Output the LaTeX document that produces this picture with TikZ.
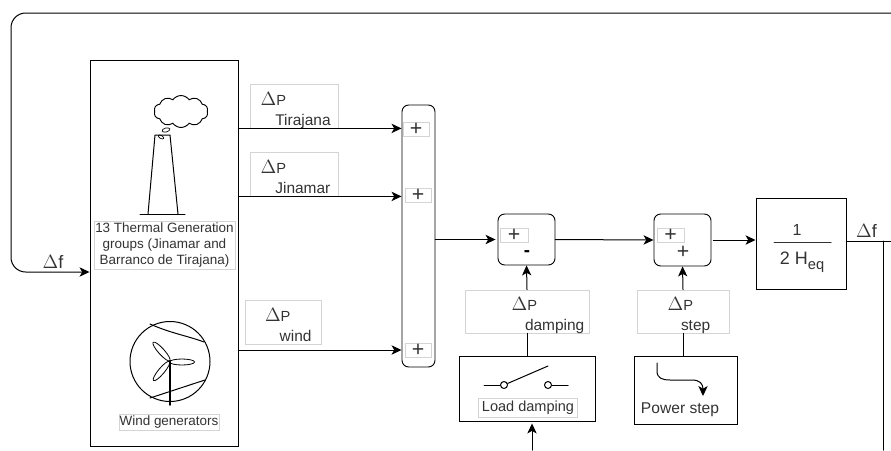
\documentclass[tikz,border=0pt]{standalone}
\usepackage{fontspec}
\setmainfont{Liberation Sans}
\usetikzlibrary{arrows.meta,positioning,shapes.geometric,shapes.symbols}
\definecolor{txt}{HTML}{333333}
\definecolor{lbl}{HTML}{D4D4D4}
\newcommand{\dlabel}[3]{\hspace*{#1}\raisebox{-3.4pt}[10pt][0pt]{\fontsize{14}{15}\selectfont$\Delta$\fontsize{11}{15}\selectfont P}\\\hspace*{#2}\raisebox{-3.4pt}[0pt][3pt]{#3}}
\tikzset{
	>={Stealth[length=7.5pt,width=7pt,inset=2pt]},
	block/.style={draw,line width=0.7pt,minimum width=#1*0.75pt,inner sep=0pt},
	sumbox/.style={block=#1,rounded corners=5pt},
	lblbox/.style={draw=lbl,line width=0.6pt,text=txt,inner sep=0pt,font=\fontsize{10.1}{12}\selectfont},
	dpbox/.style 2 args={lblbox,minimum width=#1*0.75pt,text width=#1*0.75pt,align=left,minimum height=#2*0.75pt,font=\fontsize{11.6}{15}\selectfont},
	plusbox/.style={lblbox,minimum width=26*0.75pt,minimum height=14*0.75pt,font=\fontsize{16}{14}\selectfont},
	sig/.style={text=txt,font=\fontsize{13.5}{14}\selectfont,inner sep=0pt},
	blade/.style={draw,ellipse,line width=0.6pt,minimum width=25*0.75pt,minimum height=6*0.75pt,inner sep=0pt}
}

\begin{document}
\begin{tikzpicture}[x=0.75pt,y=-0.75pt,line width=0.75pt,line cap=round]
\useasboundingbox (0,0) rectangle (891,450);
% blocks
\node[block=148,minimum height=386*0.75pt] (gen) at (164,253) {};
\node[sumbox=33,minimum height=262*0.75pt] (sum_p) at (418.5,236) {};
\node[sumbox=57,minimum height=51*0.75pt] (sum_d) at (526.5,239.5) {};
\node[sumbox=57,minimum height=52*0.75pt] (sum_s) at (682.5,240) {};
\node[block=90,minimum height=91*0.75pt] (inertia) at (801,243.5) {};
\node[block=136,minimum height=65*0.75pt] (load) at (527,388.5) {};
\node[block=103,minimum height=68*0.75pt] (step) at (685.5,390) {};
% labels on the lines
\node[dpbox={88}{44}] (dp_tir) at (294,106) {\dlabel{8pt}{19pt}{Tirajana}};
\node[dpbox={88}{44}] (dp_jin) at (294,174) {\dlabel{8pt}{19pt}{Jinamar}};
\node[dpbox={76}{44}] (dp_wind) at (283,322) {\dlabel{15pt}{26pt}{wind}};
\node[dpbox={124}{43}] (dp_damp) at (527,311.5) {\dlabel{35pt}{45pt}{damping}};
\node[dpbox={92}{43}] (dp_step) at (683,311.5) {\dlabel{23pt}{33pt}{step}};
\node[plusbox] (p1) at (416,129) {+};
\node[plusbox] (p2) at (418,195) {+};
\node[plusbox] (p3) at (418,350) {+};
\node[plusbox,minimum width=28*0.75pt] (p4) at (514,235) {+};
\node[plusbox,minimum width=27*0.75pt] (p5) at (670.5,235) {+};
\node[text=black,font=\bfseries\fontsize{14}{14}\selectfont,inner sep=0pt] (m1) at (527,253.5) {-};
\node[text=txt,font=\fontsize{16}{16}\selectfont,inner sep=0pt] (p6) at (683,252) {+};
% signals
\coordinate (top_r) at (891,13);
\coordinate (top_l) at (11,13);
\coordinate (bot_l) at (11,272);
\coordinate (fb_r) at (891,241);
\coordinate (fb_v) at (883,241);
\coordinate (fb_e) at (883,450);
\coordinate (load_in) at (532,450);
\draw[->,rounded corners=11pt] (top_r) -- (top_l) -- (bot_l) -- (gen.west |- bot_l);
\node[sig] (df_in) at (53,262) {$\Delta$f};
\node[sig] (df_out) at (866.5,231) {$\Delta$f};
\draw[->] (gen.east |- dp_tir.south) -- (sum_p.west |- dp_tir.south);
\draw[->] (gen.east |- dp_jin.south) -- (sum_p.west |- dp_jin.south);
\draw[->] (gen.east |- p3) -- (sum_p.west |- p3);
\draw[->] (sum_p.east |- sum_d) -- ([xshift=-1.5pt]sum_d.west);
\draw[->] (sum_d.east) -- (sum_s.west);
\draw[->] ([xshift=1.5pt]sum_s.east) -- (inertia.west |- sum_s.east);
\draw (inertia.east |- fb_r) -- (fb_r);
\draw (fb_v) -- (fb_e);
\draw (load.north) -- (dp_damp.south);
\draw[->] (dp_damp.north) -- (sum_d.south);
\draw (step.north -| dp_step) -- (dp_step.south);
\draw[->] (dp_step.north) -- (sum_s.south);
\draw[->] (load_in) -- ([yshift=-1.5pt]load.south -| load_in);
% frequency block
\node[text=txt,inner sep=0pt,font=\fontsize{12}{12}\selectfont] (num) at (797,230) {1};
\node[text=txt,inner sep=0pt,font=\fontsize{13.5}{14}\selectfont] (den) at (802,262) {2 H\raisebox{-3.5pt}{\fontsize{11}{12}\selectfont eq}};
\coordinate (frac_l) at (774,242);
\coordinate (frac_r) at (831,242);
\draw[txt] (frac_l) -- (frac_r);
% thermal generation
\coordinate (base_l) at (140,214);
\coordinate (base_r) at (185,214);
\draw (base_l) -- (base_r);
\draw (148,214) -- (155,135) -- (170,135) -- (178,214);
\node[draw,cloud,cloud puffs=10,cloud puff arc=110,aspect=1.7,line width=0.7pt,minimum width=54*0.75pt,minimum height=32*0.75pt,inner sep=0pt] (smoke) at (181,111.5) {};
\node[draw,ellipse,line width=0.5pt,minimum width=8*0.75pt,minimum height=4*0.75pt,inner sep=0pt,rotate=15] (puff1) at (166,130) {};
\node[draw,ellipse,line width=0.5pt,minimum width=6*0.75pt,minimum height=3*0.75pt,inner sep=0pt,rotate=-30] (puff2) at (161,137) {};
\node[lblbox,minimum width=141*0.75pt,minimum height=48*0.75pt,align=center] (thermal) at (164.5,245) {13 Thermal Generation\\groups (Jinamar and\\Barranco de Tirajana)};
% wind generators
\node[draw,circle,minimum size=80*0.75pt,inner sep=0pt] (wheel) at (170,361.5) {};
\coordinate (hub) at (170,361);
\coordinate (tower) at (170,405);
\draw[line width=1.3pt] (hub) -- (tower);
\draw (150,324) .. controls (170,333) and (188,336) .. (204,342);
\draw (150,398) -- (205,380);
\node[blade] (b1) at (182,362) {};
\node[blade,rotate=-48] (b2) at (161.5,351.5) {};
\node[blade,rotate=50] (b3) at (161.5,371) {};
\node[lblbox,minimum width=100*0.75pt,minimum height=16*0.75pt] (wind) at (169,422) {Wind generators};
% load damping
\coordinate (sw_a) at (484,385);
\coordinate (sw_b) at (568,385);
\coordinate (sw_c) at (548,366);
\node[draw,circle,minimum size=7*0.75pt,inner sep=0pt] (sw1) at (504,385) {};
\node[draw,circle,minimum size=7*0.75pt,inner sep=0pt] (sw2) at (548,385) {};
\draw (sw_a) -- (sw1);
\draw (sw1) -- (sw_c);
\draw (sw2) -- (sw_b);
\node[lblbox,minimum width=99*0.75pt,minimum height=19*0.75pt,font=\fontsize{10.9}{12}\selectfont] (load_t) at (528,408) {Load damping};
% power step
\coordinate (st_a) at (657,363);
\coordinate (st_b) at (703,396);
\draw[->] (st_a) -- (657,371) .. controls (657,378) and (662,380) .. (670,380) -- (692,380) .. controls (700,380) and (703,384) .. (st_b);
\node[text=txt,inner sep=0pt,font=\fontsize{11.7}{12}\selectfont] (step_t) at (680,410) {Power step};
\end{tikzpicture}
\end{document}
